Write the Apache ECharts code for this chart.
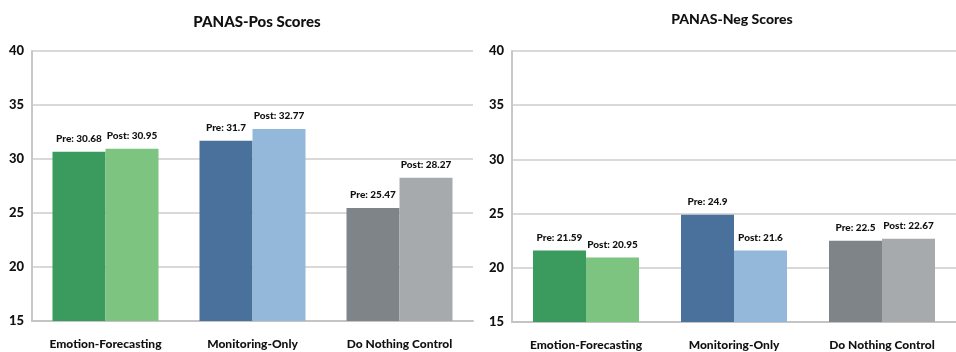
<!DOCTYPE html>
<html>
<head>
<meta charset="utf-8">
<script src="https://cdn.jsdelivr.net/npm/echarts@6/dist/echarts.min.js"></script>
<style>
html,body{margin:0;padding:0;background:#fff;}
#c{width:956px;height:352px;}
</style>
</head>
<body>
<div id="c"></div>
<script>
const categories = ['Emotion-Forecasting', 'Monitoring-Only', 'Do Nothing Control'];
const posPre = [30.68, 31.7, 25.47];
const posPost = [30.95, 32.77, 28.27];
const negPre = [21.59, 24.9, 22.5];
const negPost = [20.95, 21.6, 22.67];
const titles = ['PANAS-Pos Scores', 'PANAS-Neg Scores'];
const yTicks = [15, 20, 25, 30, 35, 40];

const preColors = ['#3b9a5e', '#4a709c', '#7f8489'];
const postColors = ['#7cc480', '#94b8d9', '#a6aaad'];
const FONT = 'Lato';
const TXT = '#111111';

function mk(vals, colors, prefix, gi) {
  return {
    type: 'bar', xAxisIndex: gi, yAxisIndex: gi,
    barWidth: 53, barGap: '0%',
    data: vals.map((v, i) => ({ value: v, itemStyle: { color: colors[i] } })),
    label: {
      show: true, position: 'top', distance: 8,
      formatter: p => prefix + ': ' + p.value,
      fontFamily: FONT, fontWeight: 900, fontSize: 10, color: TXT
    }
  };
}

const grids = [
  { left: 32, right: 483, top: 51, bottom: 31 },
  { left: 512, right: -7, top: 51, bottom: 30 }
];

const xAxes = grids.map((g, i) => ({
  type: 'category', gridIndex: i, data: categories,
  axisLine: { lineStyle: { color: '#c4c4c4', width: 2 } },
  axisTick: { show: false },
  axisLabel: { fontFamily: FONT, fontWeight: 900, fontSize: 12, color: TXT, margin: 17 }
}));
const yAxes = grids.map((g, i) => ({
  type: 'value', gridIndex: i, min: 15, max: 40, interval: 5,
  axisLine: { show: true, lineStyle: { color: '#c8c8c8', width: 2 } },
  axisTick: { show: false },
  splitLine: { lineStyle: { color: '#d9d9d9', width: 2 } },
  axisLabel: { fontFamily: FONT, fontWeight: 900, fontSize: 13, color: TXT, margin: 8,
    formatter: v => yTicks.includes(v) ? String(v) : '' }
}));

const chart = echarts.init(document.getElementById('c'), null, { renderer: 'canvas' });
chart.setOption({
  backgroundColor: '#ffffff',
  animation: false,
  title: [
    { text: titles[0], left: 252, top: 10, textAlign: 'center',
      textStyle: { fontFamily: FONT, fontWeight: 900, fontSize: 15, color: TXT } },
    { text: titles[1], left: 727, top: 7, textAlign: 'center',
      textStyle: { fontFamily: FONT, fontWeight: 900, fontSize: 14, color: TXT } }
  ],
  grid: grids,
  xAxis: xAxes,
  yAxis: yAxes,
  series: [
    mk(posPre, preColors, 'Pre', 0),
    mk(posPost, postColors, 'Post', 0),
    mk(negPre, preColors, 'Pre', 1),
    mk(negPost, postColors, 'Post', 1)
  ]
});
</script>
</body>
</html>
